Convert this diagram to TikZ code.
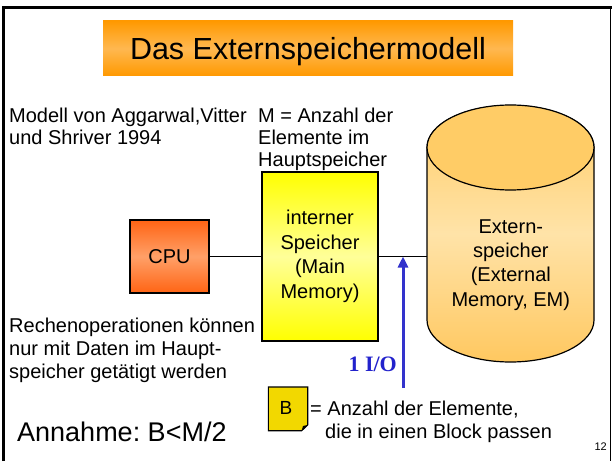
\documentclass[tikz,border=0pt]{standalone}
\usepackage{fontspec}
\setmainfont{Liberation Sans}
\newfontfamily\iofont{Liberation Serif}
\usetikzlibrary{positioning, arrows.meta, shapes, calc}
\frenchspacing

\definecolor{titleorange}{HTML}{FF9900}
\definecolor{titlelight}{HTML}{FFB850}
\definecolor{cpuorange}{HTML}{FF6414}
\definecolor{cpulight}{HTML}{FFA068}
\definecolor{memyellow}{HTML}{FFFF00}
\definecolor{memlight}{HTML}{FFFF99}
\definecolor{emdark}{HTML}{FFC860}
\definecolor{emlight}{HTML}{FFE3A8}
\definecolor{emtop}{HTML}{FFCC66}
\definecolor{iblue}{HTML}{3333CC}
\definecolor{iotext}{HTML}{2222CC}
\definecolor{blockgold}{HTML}{F2D800}

\begin{document}
\begin{tikzpicture}[x=1pt, y=1pt, every node/.style={inner sep=0pt}]
\tikzset{
  titlebox/.style={
    minimum width=410pt, minimum height=55pt,
    top color=titleorange, bottom color=titleorange, middle color=titlelight,
    font=\fontsize{30.5}{36}\selectfont, text height=22pt, text depth=0pt
  },
  unitbox/.style={draw=black, line width=1.1pt, align=center, font=\fontsize{20}{24.5}\selectfont},
  note/.style={align=left, anchor=north west, font=\fontsize{20}{22}\selectfont},
  link/.style={line width=1.9pt},
  ioarrow/.style={draw=iblue, line width=3pt, -{Triangle[width=10pt,length=11pt]}}
}
\useasboundingbox (0,0) rectangle (612,461);

% frame of the slide
\draw[line width=2.7pt] (3.3,0) -- (3.3,453.6) -- (612,453.6);
\draw[line width=1.2pt] (610.6,453.6) -- (610.6,0);

\node (title) [titlebox] at (308,412.5) {Das Externspeichermodell};

\node (cpu) [unitbox, minimum width=79pt, minimum height=73pt,
  top color=cpuorange, bottom color=cpuorange, middle color=cpulight] at (169.5,204.5) {CPU};

\node (mem) [unitbox, minimum width=116pt, minimum height=169pt,
  top color=memyellow, bottom color=memyellow, middle color=memlight] at (320,204.5)
  {interner\\Speicher\\(Main\\Memory)};

% cylinder for the external memory
\shade[top color=emtop, bottom color=emdark, middle color=emlight, draw=black, line width=1.2pt]
  (427,313.5) -- (427,141) arc[start angle=180, end angle=360, x radius=83.5, y radius=42]
  -- (594,313.5) arc[start angle=0, end angle=180, x radius=83.5, y radius=42] -- cycle;
\filldraw[fill=emtop, draw=black, line width=1.2pt] (510.5,313.5) ellipse[x radius=83.5, y radius=42.5];
\node (ext) [align=center, minimum width=167pt, font=\fontsize{20}{24.3}\selectfont] at (510.8,196)
  {Extern-\\speicher\\(External\\Memory, EM)};

\draw [link] (cpu) -- (mem);
\draw [link] (mem.east) -- (mem.east -| ext.west);

% one block transfer
\coordinate (iobase) at (403,73);
\draw [ioarrow] (iobase) -- (iobase |- mem.east);
\node (io) [anchor=base east, text=iotext, font=\iofont\bfseries\fontsize{22}{26}\selectfont] at (397,89.5) {1 I/O};

\node (aggarwal) [note] at (9,353.4) {Modell von Aggarwal,Vitter\\und Shriver 1994};
\node (msize) [note] at (258,353.4) {M = Anzahl der\\Elemente im\\Hauptspeicher};
\node (rechen) [note, font=\fontsize{20}{23}\selectfont] at (9,143.4)
  {Rechenoperationen können\\nur mit Daten im Haupt-\\speicher getätigt werden};

\node (annahme) [anchor=base west, font=\fontsize{27}{32}\selectfont] at (17,19.3) {Annahme: B<M/2};

% block symbol with folded corner
\filldraw[fill=blockgold, draw=black, line width=1.1pt]
  (268.3,74) -- (307.7,74) -- (307.7,36) -- (301.7,30.3) -- (268.3,30.3) -- cycle;
\fill (301.7,30.3) -- (303,35) -- (307.7,36) -- cycle;
\node (block) [font=\fontsize{19}{22}\selectfont] at (286,53.5) {B};
\node (bsize) [note, font=\fontsize{20}{23}\selectfont] at (310,60.3)
  {= Anzahl der Elemente,\\\hspace*{15pt}die in einen Block passen};

\node (page) [anchor=base east, font=\fontsize{11}{13}\selectfont] at (607,10.5) {12};
\end{tikzpicture}
\end{document}
